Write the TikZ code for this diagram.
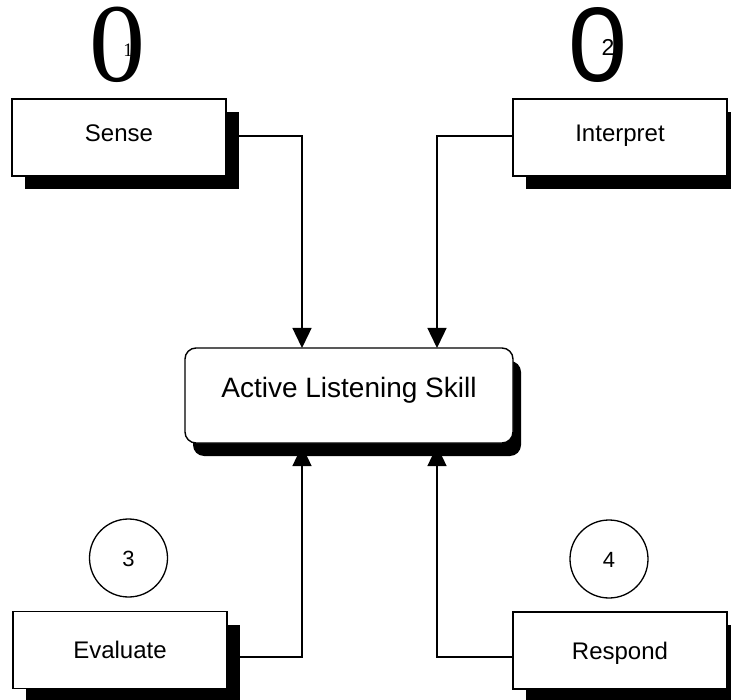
\documentclass[tikz,border=0pt]{standalone}
\usepackage{fontspec}
\setmainfont{Liberation Sans}
\newfontfamily\serifnum{Liberation Serif}
\usetikzlibrary{arrows.meta,shadows}
\begin{document}
\begin{tikzpicture}[x=1pt,y=-1pt,
  sbox/.style={draw=black,line width=1.4pt,fill=white,rectangle,minimum width=214pt,minimum height=77pt,inner sep=0pt,
    font=\fontsize{24}{28}\selectfont,text height=17pt,text depth=0pt,
    drop shadow={fill=black,opacity=1,shadow xshift=13pt,shadow yshift=-13pt}},
  topbox/.style={sbox,text depth=8pt},
  conn/.style={line width=1.4pt,-{Triangle[length=20pt,width=19pt]}},
  num/.style={circle,draw=black,line width=1.3pt,minimum size=78pt,inner sep=0pt,font=\fontsize{22}{26}\selectfont,text height=16pt,text depth=0pt}]
\useasboundingbox (0,0) rectangle (731,700);
\fill[white] (0,0) rectangle (731,700);
% big zeros with small numbers
\node[inner sep=0pt,font=\serifnum\fontsize{112}{112}\selectfont] (z1) at (117.5,45) {0};
\node[inner sep=0pt,font=\serifnum\fontsize{19}{20}\selectfont] (s1) at (128,50) {1};
\node[inner sep=0pt,font=\fontsize{106}{106}\selectfont] (z2) at (597.5,45) {0};
\node[inner sep=0pt,font=\fontsize{23}{24}\selectfont] (s2) at (608,47) {2};
% boxes
\node[topbox] (sense) at (119,137.5) {Sense};
\node[topbox] (interp) at (620,137.5) {Interpret};
\node[sbox] (eval) at (120,650) {Evaluate};
\node[sbox] (resp) at (620,650.5) {Respond};
% central box
\node[draw=black,line width=1.4pt,fill=white,rounded corners=11pt,minimum width=328pt,minimum height=95pt,inner sep=0pt,
  font=\fontsize{28}{32}\selectfont,text height=20pt,text depth=15pt,
  drop shadow={fill=black,opacity=1,shadow xshift=8pt,shadow yshift=-13pt}] (als) at (349,395.5) {Active Listening Skill};
% circles
\node[num] (c3) at (128.5,558) {3};
\node[num] (c4) at (609,559) {4};
% connectors
\coordinate (a1) at (302,348);
\coordinate (a2) at (437,348);
\coordinate (b1) at (302,446);
\coordinate (b2) at (437,446);
\draw[conn] (sense.east |- 0,136) -| (a1);
\draw[conn] (interp.west |- 0,136) -| (a2);
\draw[conn] (eval.east |- 0,657) -| (b1);
\draw[conn] (resp.west |- 0,657) -| (b2);
\end{tikzpicture}
\end{document}
